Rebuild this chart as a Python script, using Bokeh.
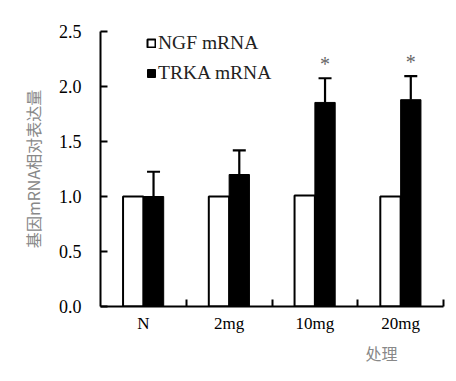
from bokeh.plotting import figure
from bokeh.models import (FixedTicker, Range1d, ColumnDataSource, Whisker, TeeHead,
                          Legend, LegendItem, Title)
from bokeh.core.properties import value
from bokeh.embed import file_html
from bokeh.resources import INLINE

groups = ["N", "2mg", "10mg", "20mg"]
ngf = [1.00, 1.00, 1.01, 1.00]
trka = [1.00, 1.20, 1.855, 1.88]
trka_err = [0.225, 0.22, 0.22, 0.215]
signif = ["", "", "*", "*"]
yticks = [0.0, 0.5, 1.0, 1.5, 2.0, 2.5]

SERIF = "Liberation Serif"
CJK = "Noto Sans CJK SC"

bar_w = 0.237
centers = [i + 0.5 for i in range(len(groups))]
x_ngf = [c - bar_w / 2 for c in centers]
x_trka = [c + bar_w / 2 for c in centers]

p = figure(width=448, height=373, output_backend="svg", toolbar_location=None,
           x_range=Range1d(0, len(groups)), y_range=Range1d(0, 2.5),
           min_border_left=100, min_border_right=5, min_border_top=31, min_border_bottom=67)
p.outline_line_color = None
p.grid.visible = False
p.background_fill_color = "white"

src_n = ColumnDataSource(dict(x=x_ngf, top=ngf))
src_t = ColumnDataSource(dict(x=x_trka, top=trka,
                              upper=[t + e for t, e in zip(trka, trka_err)],
                              star_y=[t + e + 0.13 for t, e in zip(trka, trka_err)],
                              star=signif))

r_n = p.vbar(x="x", top="top", width=bar_w, source=src_n, fill_color="white",
             line_color="black", line_width=2)
r_t = p.vbar(x="x", top="top", width=bar_w, source=src_t, fill_color="black",
             line_color="black", line_width=1)

wh = Whisker(base="x", lower="top", upper="upper", source=src_t,
             upper_head=TeeHead(size=13, line_width=2.2, line_color="black"),
             lower_head=None, line_width=2.2, line_color="black")
p.add_layout(wh)

p.text(x="x", y="star_y", text="star", source=src_t, text_align="center",
       text_baseline="middle", text_font=value(SERIF), text_font_size="20px",
       text_color="#666666")

# axes
p.yaxis.ticker = FixedTicker(ticks=yticks)
p.yaxis.major_label_overrides = {t: f"{t:.1f}" for t in yticks}
p.yaxis.major_tick_in = 7
p.yaxis.major_tick_out = 0
p.yaxis.minor_tick_line_color = None
p.yaxis.axis_line_width = 2
p.yaxis.major_tick_line_width = 2
p.yaxis.major_label_text_font = SERIF
p.yaxis.major_label_text_font_size = "18px"
p.yaxis.major_label_text_color = "black"
p.yaxis.major_label_standoff = 19
p.yaxis.axis_label = "基因mRNA相对表达量"
p.yaxis.axis_label_text_font = CJK
p.yaxis.axis_label_text_font_size = "16px"
p.yaxis.axis_label_text_font_style = "normal"
p.yaxis.axis_label_text_color = "#888888"
p.yaxis.axis_label_standoff = 11

p.xaxis.ticker = FixedTicker(ticks=centers, minor_ticks=[i + 1 for i in range(len(groups))])
p.xaxis.major_label_overrides = {c: g for c, g in zip(centers, groups)}
p.xaxis.major_tick_line_color = None
p.xaxis.major_tick_in = 0
p.xaxis.major_tick_out = 0
p.xaxis.minor_tick_in = 7
p.xaxis.minor_tick_out = 0
p.xaxis.minor_tick_line_width = 2
p.xaxis.axis_line_width = 2
p.xaxis.major_label_text_font = SERIF
p.xaxis.major_label_text_font_size = "17px"
p.xaxis.major_label_text_color = "black"
p.xaxis.major_label_standoff = 7

p.add_layout(Title(text="处理", align="right", offset=46, text_font=CJK,
                   text_font_size="16px", text_font_style="normal",
                   text_color="#888888", standoff=6), "below")

legend = Legend(items=[LegendItem(label="NGF mRNA", renderers=[r_n]),
                       LegendItem(label="TRKA mRNA", renderers=[r_t])],
                location=(46, 222), orientation="vertical")
legend.glyph_width = 10
legend.glyph_height = 10
legend.label_height = 22
legend.spacing = 8
legend.padding = 0
legend.margin = 0
legend.label_standoff = 2
legend.border_line_color = None
legend.background_fill_alpha = 0
legend.label_text_font = SERIF
legend.label_text_font_size = "19.5px"
legend.label_text_color = "#222222"
p.add_layout(legend)

open("out.html", "w").write(file_html(p, INLINE))
